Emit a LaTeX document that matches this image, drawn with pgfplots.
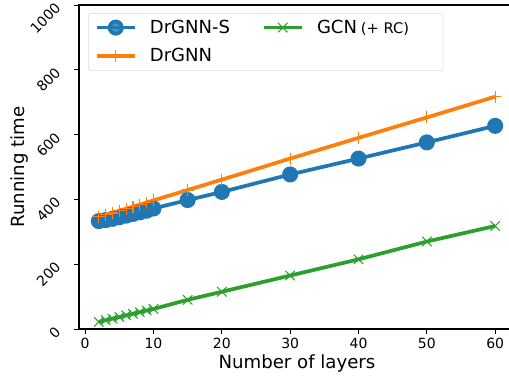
\documentclass[border=0pt]{standalone}
\usepackage{pgfplots}
\pgfplotsset{compat=1.18}
\usepackage{graphicx}
\usepackage{fontspec}
\setmainfont{DejaVu Sans}
\definecolor{tabblue}{HTML}{1F77B4}
\definecolor{taborange}{HTML}{FF7F0E}
\definecolor{tabgreen}{HTML}{2CA02C}
\begin{document}
\begin{tikzpicture}
\begin{axis}[
  at={(0,0)}, anchor=south west,
  scale only axis, width=327pt, height=243pt,
  xmin=-0.9, xmax=62.9, ymin=0, ymax=1000,
  xtick={0,10,20,30,40,50,60},
  ytick={0,200,400,600,800,1000},
  tick align=outside, tick pos=left,
  major tick length=3.5pt,
  tick style={black, line width=0.7pt},
  axis line style={line width=0.8pt},
  /pgf/number format/assume math mode=true,
  /pgf/number format/set thousands separator={},
  ticklabel style={font=\fontsize{10.5}{12}\selectfont},
  yticklabel={\rotatebox{45}{\pgfmathprintnumber{\tick}}},
  yticklabel style={anchor=north east, inner sep=0pt, xshift=-9.3pt, yshift=2.6pt},
  every axis x label/.style={at={(axis description cs:0.5,0)}, anchor=center, yshift=-25.5pt, font=\fontsize{13.6}{16}\selectfont},
  every axis y label/.style={at={(axis description cs:0,0.5)}, anchor=center, xshift=-44.6pt, rotate=90, font=\fontsize{13.6}{16}\selectfont},
  xlabel={Number of layers},
  ylabel={Running time},
  legend columns=2,
  legend cell align=left,
  legend image code/.code={\draw[mark repeat=2,mark phase=2] plot coordinates {(0cm,0cm) (0.5cm,0cm) (1cm,0cm)};},
  legend style={at={(axis description cs:0,1)}, anchor=north west, xshift=6.75pt, yshift=-6pt,
    draw=black!15, rounded corners=2pt, fill=white, fill opacity=0.8, text opacity=1,
    font=\fontsize{13.5}{16}\selectfont, inner xsep=5pt, inner ysep=3pt,
    /tikz/every odd column/.append style={column sep=8pt},
    /tikz/every even column/.append style={column sep=22pt},
    row sep=6pt},
]
\addplot[tabblue, line width=2.8pt, mark=*, mark size=4.6pt, mark options={solid}] coordinates {
(2,333) (3,336) (4,340) (5,345) (6,350) (7,355) (8,360) (9,365) (10,372)
(15,398) (20,423) (30,477) (40,526) (50,576) (60,627)};
\addlegendentry{DrGNN-S}
\addplot[tabgreen, line width=2.8pt, mark=x, mark size=5pt, mark options={line width=0.8pt}] coordinates {
(2,22) (3,27) (4,32) (5,37) (6,42) (7,47) (8,52) (9,57) (10,62)
(15,90) (20,115) (30,165) (40,215) (50,270) (60,318)};
\addlegendentry{GCN\kern3pt{\fontsize{11}{13}\selectfont(+ RC)}\kern18.5pt}
\addplot[taborange, line width=2.8pt, mark=+, mark size=4.5pt, mark options={line width=0.8pt}] coordinates {
(2,346) (3,352) (4,358) (5,365) (6,371) (7,378) (8,384) (9,390) (10,397)
(15,429) (20,461) (30,526) (40,590) (50,653) (60,717)};
\addlegendentry{DrGNN}
\end{axis}
\pgfresetboundingbox
\useasboundingbox (-59.25pt,-34.5pt) rectangle (322.5pt,246.75pt);
\end{tikzpicture}
\end{document}
